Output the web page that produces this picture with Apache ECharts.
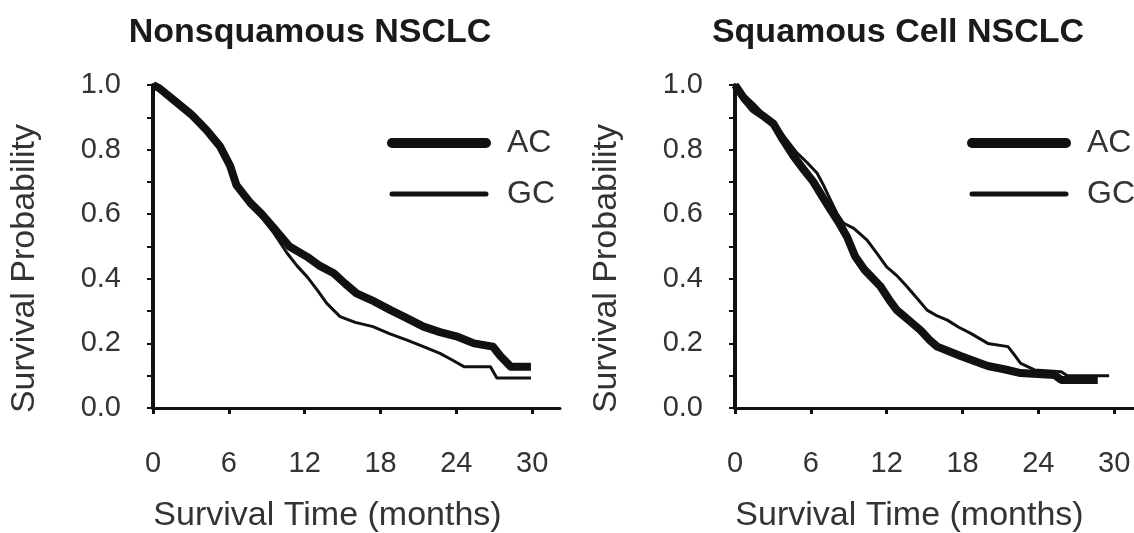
<!DOCTYPE html>
<html>
<head>
<meta charset="utf-8">
<script src="https://cdn.jsdelivr.net/npm/echarts@6/dist/echarts.min.js"></script>
<style>
  html, body { margin: 0; padding: 0; background: #fff; }
  #chart { width: 1134px; height: 533px; }
</style>
</head>
<body>
<div id="chart"></div>
<script>
// panel titles and legend names
const titles = ["Nonsquamous NSCLC", "Squamous Cell NSCLC"];
const arms = ["AC", "GC"];
const xTicks = [0, 6, 12, 18, 24, 30];

// [months, survival probability]
const nonsqAC = [[0, 1.0], [0.5, 0.99], [1.6, 0.955], [3, 0.91], [4.25, 0.86], [5.3, 0.81], [6.1, 0.75],
  [6.6, 0.69], [7.7, 0.635], [8.6, 0.6], [9.5, 0.56], [10.8, 0.5], [12.2, 0.468], [13.2, 0.44],
  [14.3, 0.417], [15.2, 0.385], [16.1, 0.355], [17.5, 0.33], [18.8, 0.303], [20, 0.28], [21.4, 0.252],
  [22.7, 0.235], [24, 0.222], [25.4, 0.2], [26.9, 0.19], [27.2, 0.175], [27.5, 0.16], [28.3, 0.128],
  [29.9, 0.128]];
const nonsqGC = [[0, 1.0], [1.6, 0.95], [3, 0.905], [4.25, 0.855], [5.3, 0.805], [6.1, 0.745],
  [6.6, 0.685], [7.7, 0.63], [8.6, 0.59], [9.5, 0.545], [10.6, 0.48], [11.4, 0.44], [12.2, 0.406],
  [13, 0.365], [13.75, 0.324], [14.8, 0.283], [16, 0.265], [17.4, 0.252], [18.7, 0.23], [20.1, 0.21],
  [21.4, 0.19], [22.7, 0.169], [23.6, 0.15], [24.6, 0.128], [26.7, 0.128], [27.2, 0.093], [29.9, 0.093]];
const sqAC = [[0, 1.0], [0.7, 0.96], [1.45, 0.925], [2.2, 0.905], [3.04, 0.88], [3.8, 0.83], [4.63, 0.78],
  [5.4, 0.74], [6.2, 0.7], [6.9, 0.655], [7.54, 0.615], [8.2, 0.575], [8.86, 0.53], [9.5, 0.47],
  [10.2, 0.43], [11.5, 0.377], [12.2, 0.335], [12.8, 0.303], [13.8, 0.27], [14.7, 0.24], [15.4, 0.21],
  [16.0, 0.19], [17.9, 0.16], [20.0, 0.13], [21.3, 0.12], [22.6, 0.108], [25.3, 0.102], [25.8, 0.087],
  [28.7, 0.087]];
const sqGC = [[0, 1.0], [0.7, 0.97], [1.45, 0.943], [2.4, 0.905], [3.3, 0.87], [4.1, 0.83], [4.9, 0.79],
  [5.7, 0.76], [6.5, 0.727], [7.0, 0.69], [7.54, 0.645], [8.1, 0.6], [8.6, 0.572], [9.4, 0.556],
  [10.45, 0.52], [11.2, 0.48], [12.0, 0.437], [12.8, 0.41], [13.6, 0.376], [14.4, 0.34], [15.2, 0.303],
  [16.0, 0.285], [16.8, 0.272], [17.7, 0.25], [18.65, 0.231], [20.0, 0.2], [21.6, 0.19], [22.0, 0.17],
  [22.6, 0.138], [23.7, 0.118], [25.8, 0.112], [26.3, 0.1], [29.6, 0.1]];

const ink = "#111";
const txt = "#333";
const font = "'Liberation Sans', Arial, sans-serif";

function xAx(i) {
  return {
    type: "value", gridIndex: i, min: 0, max: 32.2,
    name: "Survival Time (months)", nameLocation: "middle", nameGap: 91,
    nameTextStyle: { fontSize: 34, color: txt, fontFamily: font, padding: [0, 58, 0, 0] },
    axisLine: { lineStyle: { color: ink, width: 3 } },
    axisTick: { customValues: xTicks, length: 6, lineStyle: { color: ink, width: 3 } },
    axisLabel: { customValues: xTicks, fontSize: 29, color: txt, fontFamily: font, margin: 41 },
    splitLine: { show: false }
  };
}
function yAx(i) {
  return {
    type: "value", gridIndex: i, min: 0, max: 1, interval: 0.2,
    name: "Survival Probability", nameLocation: "middle", nameGap: 111,
    nameTextStyle: { fontSize: 34, color: txt, fontFamily: font, padding: [0, 44, 0, 0] },
    axisLine: { lineStyle: { color: ink, width: 4 } },
    axisTick: { length: 6, lineStyle: { color: ink, width: 2 } },
    minorTick: { show: true, splitNumber: 2, length: 6, lineStyle: { color: ink, width: 2 } },
    axisLabel: { fontSize: 29, color: txt, fontFamily: font, margin: 32,
      formatter: (v) => v.toFixed(1) },
    splitLine: { show: false }
  };
}
function curve(name, data, i, w) {
  return {
    name: name, type: "line", xAxisIndex: i, yAxisIndex: i, data: data,
    showSymbol: false, symbol: "none",
    itemStyle: { color: ink },
    lineStyle: { color: ink, width: w, join: "round" }
  };
}
function legend(left) {
  return {
    orient: "vertical", left: left, top: 122, itemWidth: 94, itemHeight: 14, itemGap: 19,
    data: [
      { name: arms[0], itemStyle: { opacity: 0 }, lineStyle: { width: 10, cap: "round", color: ink } },
      { name: arms[1], itemStyle: { opacity: 0 }, lineStyle: { width: 5, cap: "round", color: ink } }
    ],
    textStyle: { fontSize: 32, color: txt, fontFamily: font, lineHeight: 32, padding: [0, 0, 0, 16] },
    selectedMode: false
  };
}

const chart = echarts.init(document.getElementById("chart"));
chart.setOption({
  animation: false,
  backgroundColor: "#fff",
  title: [
    { text: titles[0], left: 305, top: 11, textAlign: "center",
      textStyle: { fontSize: 34, fontWeight: "bold", color: "#1a1a1a", fontFamily: font } },
    { text: titles[1], left: 893, top: 11, textAlign: "center",
      textStyle: { fontSize: 34, fontWeight: "bold", color: "#1a1a1a", fontFamily: font } }
  ],
  legend: [legend(382), legend(962)],
  grid: [
    { left: 153, top: 85, width: 407, height: 323, outerBoundsMode: "none" },
    { left: 735, top: 85, width: 407, height: 323, outerBoundsMode: "none" }
  ],
  xAxis: [xAx(0), xAx(1)],
  yAxis: [yAx(0), yAx(1)],
  series: [
    curve(arms[1], nonsqGC, 0, 3),
    curve(arms[0], nonsqAC, 0, 8),
    curve(arms[1], sqGC, 1, 3),
    curve(arms[0], sqAC, 1, 8)
  ]
});
</script>
</body>
</html>
